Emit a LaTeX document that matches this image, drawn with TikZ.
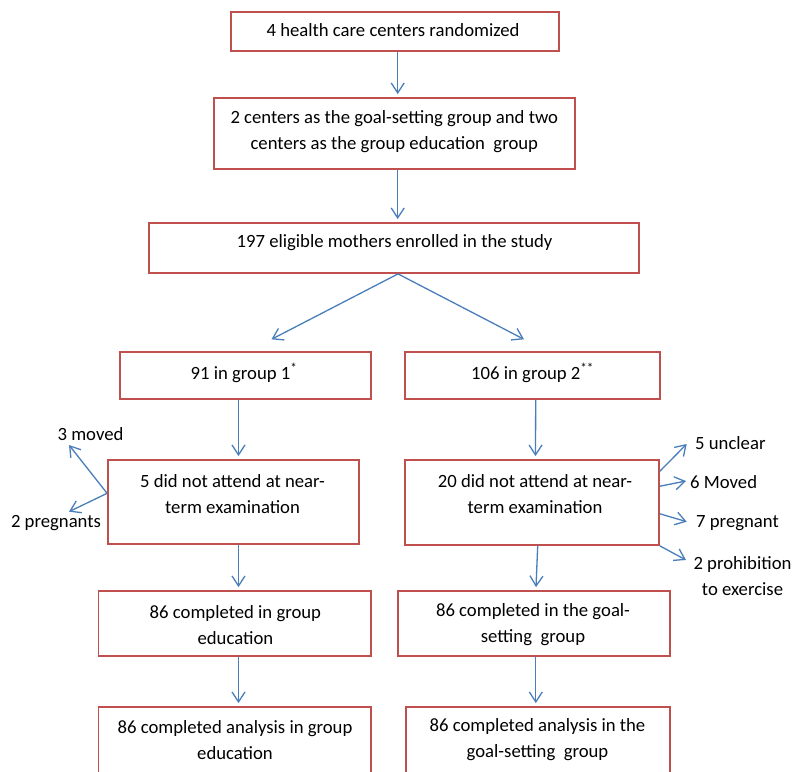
\documentclass[tikz,border=0pt]{standalone}
\usepackage{fontspec}
\setmainfont{Carlito}
\usetikzlibrary{arrows.meta}
\definecolor{boxred}{RGB}{192,80,77}
\definecolor{arrblue}{RGB}{74,126,187}
\begin{document}
\begin{tikzpicture}[x=1pt,y=-1pt,
  box/.style={draw=boxred, line width=1.8pt, inner sep=0pt},
  txt/.style={font=\fontsize{18.7pt}{26pt}\selectfont, align=center, inner sep=0pt, text=black},
  arr/.style={draw=arrblue, line width=1.3pt, -{Straight Barb[length=10pt,width=13pt]}}]
\useasboundingbox (0,0) rectangle (792,771);
\fill[white] (0,0) rectangle (792,771);
\clip (0,0) rectangle (792,771);

% boxes
\node[box, minimum width=328pt, minimum height=39pt] (b1) at (395,31.5) {};
\node[box, minimum width=361pt, minimum height=71pt] (b2) at (394.5,133.5) {};
\node[box, minimum width=490pt, minimum height=50pt] (b3) at (394,248) {};
\node[box, minimum width=251pt, minimum height=47pt] (b4) at (245.5,375.7) {};
\node[box, minimum width=255pt, minimum height=47pt] (b5) at (532.7,375.7) {};
\node[box, minimum width=251pt, minimum height=84pt] (b6) at (233.5,502) {};
\node[box, minimum width=254pt, minimum height=85pt] (b7) at (532,502.5) {};
\node[box, minimum width=272.6pt, minimum height=65pt] (b8) at (234.7,623.5) {};
\node[box, minimum width=272pt, minimum height=65pt] (b9) at (534,623.5) {};
\node[box, minimum width=272.6pt, minimum height=86pt] (b10) at (234.7,750) {};
\node[box, minimum width=264pt, minimum height=86pt] (b11) at (538,750) {};

% texts
\node[txt] (t1) at (393,30.5) {4 health care centers randomized};
\node[txt] (t2) at (394.3,131.3) {2 centers as the goal-setting group and two\\centers as the group education\ \ group};
\node[txt] (t3) at (394.5,242.7) {197 eligible mothers enrolled in the study};
\node[txt] (t4) at (244,373) {91 in group 1\textsuperscript{*}};
\node[txt] (t5) at (532.6,373) {106 in group 2\textsuperscript{**}};
\node[txt] (t6) at (232.5,494.2) {5 did not attend at near-\\term examination};
\node[txt] (t7) at (535,494.2) {20 did not attend at near-\\term examination};
\node[txt] (t8) at (235.4,625) {86 completed in group\\education};
\node[txt] (t9) at (533,625) {86 completed in the goal-\\setting\ \ group};
\node[txt] (t10) at (235,739.7) {86 completed analysis in group\\education};
\node[txt] (t11) at (537.5,739.7) {86 completed analysis in the\\goal-setting\ \ group};

% side labels
\node[txt] (l3) at (90.5,434) {3 moved};
\node[txt] (l2) at (56,523) {2 pregnants};
\node[txt, anchor=west] (l5) at (695,442.7) {5 unclear};
\node[txt, anchor=west] (l6) at (690,481.7) {6 Moved};
\node[txt, anchor=west] (l7) at (696,523.3) {7 pregnant};
\node[txt] (lp) at (742.5,575.8) {2 prohibition\\to exercise};

% main connectors
\draw[arr] ([xshift=2.7pt]b1.south) -- ([xshift=3.2pt,yshift=3pt]b2.north);
\draw[arr] ([xshift=3.2pt]b2.south) -- ([xshift=3.7pt,yshift=3pt]b3.north);
\coordinate (fk) at ([xshift=4pt]b3.south);
\draw[arr] (fk) -- ([xshift=26pt,yshift=12pt]b4.north);
\draw[arr] (fk) -- ([xshift=-8.7pt,yshift=12pt]b5.north);
\draw[arr] ([xshift=-7pt]b4.south) -- ([xshift=5pt,yshift=3pt]b6.north);
\draw[arr] ([xshift=3pt]b5.south) -- ([xshift=3.5pt,yshift=3pt]b7.north);
\draw[arr] ([xshift=5pt]b6.south) -- ([xshift=3.8pt,yshift=3pt]b8.north);
\draw[arr] ([xshift=5.7pt]b7.south) -- ([xshift=2pt,yshift=3pt]b9.north);
\draw[arr] ([xshift=3.8pt]b8.south) -- ([xshift=3.8pt,yshift=3pt]b10.north);
\draw[arr] ([xshift=1.8pt]b9.south) -- ([xshift=-2.2pt,yshift=3pt]b11.north);

% side connectors
\coordinate (s6) at ([yshift=8.7pt]b6.west);
\coordinate (e3) at (69,445);
\coordinate (e2) at (69,511.7);
\draw[arr] (s6) -- (e3);
\draw[arr] (s6) -- (e2);
\coordinate (e5) at (686.7,444);
\coordinate (e6) at (686,481);
\coordinate (e7) at (686.7,521.7);
\coordinate (ep) at (686,560);
\draw[arr] ([yshift=31.3pt]b7.east) -- (e5);
\draw[arr] ([yshift=16.3pt]b7.east) -- (e6);
\draw[arr] ([yshift=-11.3pt]b7.east) -- (e7);
\draw[arr] (b7.south east) -- (ep);
\end{tikzpicture}
\end{document}
